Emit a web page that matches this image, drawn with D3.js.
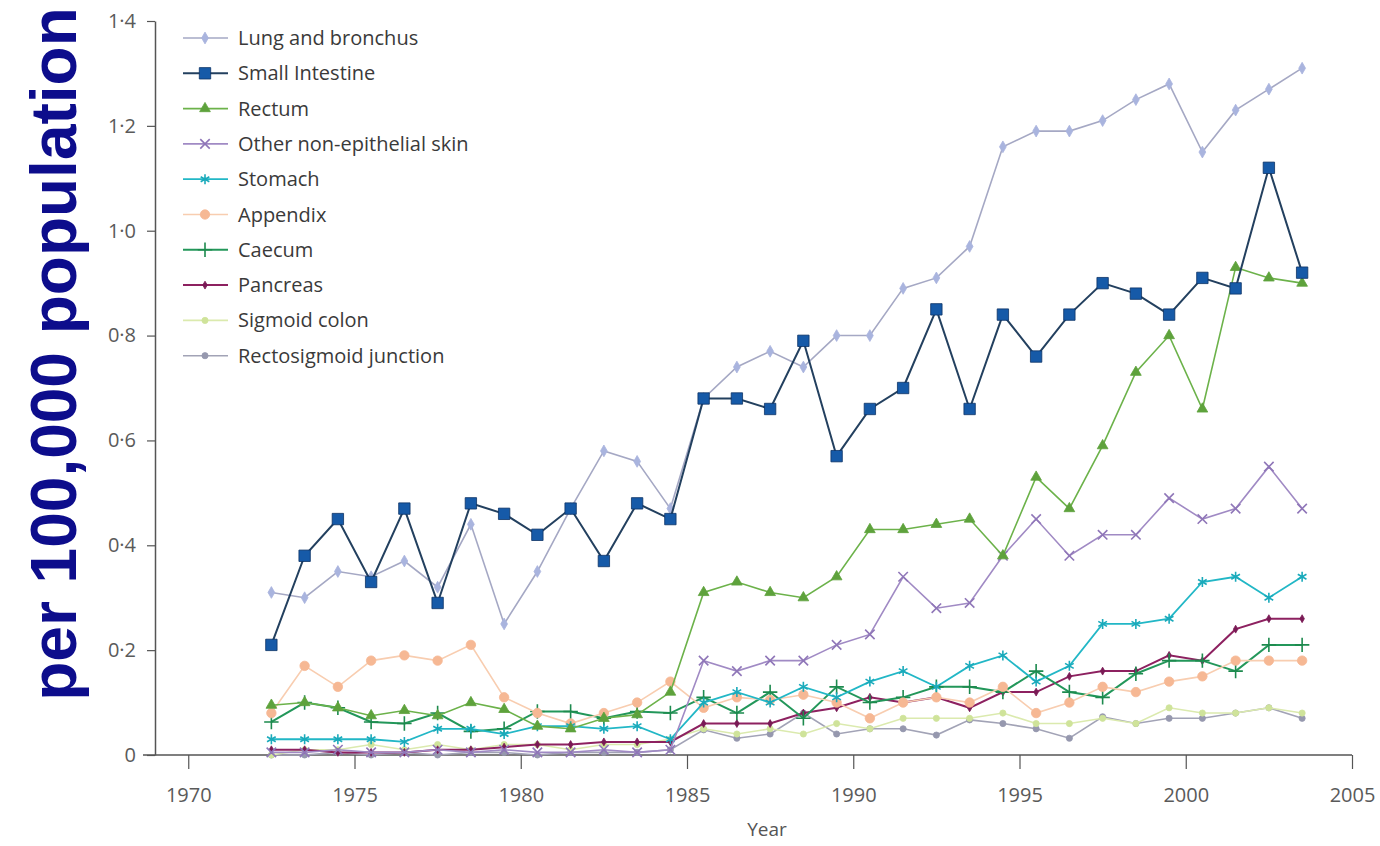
<!DOCTYPE html>
<html>
<head>
<meta charset="utf-8">
<script src="https://cdn.jsdelivr.net/npm/d3@7"></script>
<style>
  body { margin: 0; background: #fff; }
  text { font-family: "Open Sans", "Noto Sans", sans-serif; }
</style>
</head>
<body>
<svg id="chart" width="1380" height="846"></svg>
<script>
const years = [1973, 1974, 1975, 1976, 1977, 1978, 1979, 1980, 1981, 1982, 1983, 1984, 1985, 1986, 1987, 1988,
  1989, 1990, 1991, 1992, 1993, 1994, 1995, 1996, 1997, 1998, 1999, 2000, 2001, 2002, 2003, 2004];

const lung = [0.31, 0.30, 0.35, 0.34, 0.37, 0.32, 0.44, 0.25, 0.35, 0.47, 0.58, 0.56, 0.47, 0.68, 0.74, 0.77,
  0.74, 0.80, 0.80, 0.89, 0.91, 0.97, 1.16, 1.19, 1.19, 1.21, 1.25, 1.28, 1.15, 1.23, 1.27, 1.31];
const smallIntestine = [0.21, 0.38, 0.45, 0.33, 0.47, 0.29, 0.48, 0.46, 0.42, 0.47, 0.37, 0.48, 0.45, 0.68, 0.68, 0.66,
  0.79, 0.57, 0.66, 0.70, 0.85, 0.66, 0.84, 0.76, 0.84, 0.90, 0.88, 0.84, 0.91, 0.89, 1.12, 0.92];
const rectum = [0.095, 0.10, 0.09, 0.075, 0.085, 0.075, 0.10, 0.087, 0.055, 0.05, 0.07, 0.077, 0.12, 0.31, 0.33, 0.31,
  0.30, 0.34, 0.43, 0.43, 0.44, 0.45, 0.38, 0.53, 0.47, 0.59, 0.73, 0.80, 0.66, 0.93, 0.91, 0.90];
const skin = [0.005, 0.005, 0.01, 0.005, 0.005, 0.01, 0.005, 0.01, 0.005, 0.005, 0.01, 0.005, 0.01, 0.18, 0.16, 0.18,
  0.18, 0.21, 0.23, 0.34, 0.28, 0.29, 0.38, 0.45, 0.38, 0.42, 0.42, 0.49, 0.45, 0.47, 0.55, 0.47];
const stomach = [0.03, 0.03, 0.03, 0.03, 0.025, 0.05, 0.05, 0.04, 0.055, 0.055, 0.05, 0.055, 0.03, 0.10, 0.12, 0.10,
  0.13, 0.11, 0.14, 0.16, 0.13, 0.17, 0.19, 0.14, 0.17, 0.25, 0.25, 0.26, 0.33, 0.34, 0.30, 0.34];
const appendix = [0.08, 0.17, 0.13, 0.18, 0.19, 0.18, 0.21, 0.11, 0.08, 0.06, 0.08, 0.10, 0.14, 0.09, 0.11, 0.105,
  0.115, 0.10, 0.07, 0.10, 0.11, 0.10, 0.13, 0.08, 0.10, 0.13, 0.12, 0.14, 0.15, 0.18, 0.18, 0.18];
const caecum = [0.063, 0.10, 0.09, 0.063, 0.06, 0.08, 0.045, 0.05, 0.083, 0.083, 0.07, 0.083, 0.08, 0.11, 0.08, 0.12,
  0.07, 0.13, 0.10, 0.11, 0.13, 0.13, 0.12, 0.16, 0.12, 0.11, 0.155, 0.18, 0.18, 0.16, 0.21, 0.21];
const pancreas = [0.01, 0.01, 0.005, 0.005, 0.005, 0.01, 0.01, 0.015, 0.02, 0.02, 0.025, 0.025, 0.025, 0.06, 0.06, 0.06,
  0.08, 0.09, 0.11, 0.10, 0.11, 0.09, 0.12, 0.12, 0.15, 0.16, 0.16, 0.19, 0.18, 0.24, 0.26, 0.26];
const sigmoid = [0.00, 0.01, 0.01, 0.02, 0.01, 0.02, 0.01, 0.02, 0.02, 0.01, 0.02, 0.02, 0.03, 0.05, 0.04, 0.05,
  0.04, 0.06, 0.05, 0.07, 0.07, 0.07, 0.08, 0.06, 0.06, 0.07, 0.06, 0.09, 0.08, 0.08, 0.09, 0.08];
const rectosigmoid = [0.00, 0.00, 0.005, 0.00, 0.005, 0.00, 0.005, 0.005, 0.00, 0.005, 0.005, 0.005, 0.01, 0.048, 0.032, 0.04,
  0.08, 0.04, 0.05, 0.05, 0.038, 0.067, 0.06, 0.05, 0.032, 0.073, 0.06, 0.07, 0.07, 0.08, 0.09, 0.07];

const xTicks = [1970, 1975, 1980, 1985, 1990, 1995, 2000, 2005];
const yTicks = [0, 0.2, 0.4, 0.6, 0.8, 1.0, 1.2, 1.4];

const series = [
  { name: "Lung and bronchus", values: lung, color: "#a5a8c4", mColor: "#a9b4de", symbol: d3.symbolDiamond, size: 40, fill: true, w: 1.6 },
  { name: "Small Intestine", values: smallIntestine, color: "#23405f", mColor: "#165aa8", symbol: d3.symbolSquare, size: 130, fill: true, w: 2 },
  { name: "Rectum", values: rectum, color: "#6cb24a", mColor: "#5ea23c", symbol: d3.symbolTriangle, size: 50, fill: true, w: 1.6 },
  { name: "Other non-epithelial skin", values: skin, color: "#a08ac4", mColor: "#8f76b8", symbol: d3.symbolTimes, size: 60, fill: false, w: 1.6 },
  { name: "Stomach", values: stomach, color: "#22b7c6", mColor: "#1aaabb", symbol: d3.symbolAsterisk, size: 70, fill: false, w: 1.8 },
  { name: "Appendix", values: appendix, color: "#f8cdb0", mColor: "#f6b894", symbol: d3.symbolCircle, size: 70, fill: true, w: 1.6 },
  { name: "Caecum", values: caecum, color: "#23975a", mColor: "#1d8a4e", symbol: d3.symbolPlus, size: 70, fill: false, w: 2 },
  { name: "Pancreas", values: pancreas, color: "#8d2160", mColor: "#7a1a55", symbol: d3.symbolDiamond, size: 18, fill: true, w: 2 },
  { name: "Sigmoid colon", values: sigmoid, color: "#dbeaae", mColor: "#cfe39a", symbol: d3.symbolCircle, size: 30, fill: true, w: 1.6 },
  { name: "Rectosigmoid junction", values: rectosigmoid, color: "#a2a3b6", mColor: "#9698ae", symbol: d3.symbolCircle, size: 30, fill: true, w: 1.6 }
];

const svg = d3.select("#chart");

const x = d3.scaleLinear().domain([1969, 2005]).range([155, 1352]);
const y = d3.scaleLinear().domain([0, 1.4]).range([755, 21]);

const fmt = (d) => (d === 0 ? "0" : d3.format(".1f")(d).replace(".", "\u00b7"));

// axes
const xAxis = svg.append("g")
  .attr("transform", `translate(0,${y(0)})`)
  .call(d3.axisBottom(x).tickValues(xTicks).tickFormat(d3.format("d")).tickSize(14).tickSizeOuter(0));
const yAxis = svg.append("g")
  .attr("transform", `translate(${x(1969)},0)`)
  .call(d3.axisLeft(y).tickValues(yTicks).tickFormat(fmt).tickSize(8).tickSizeOuter(0));

[xAxis, yAxis].forEach((a) => {
  a.select(".domain").attr("stroke", "#555").attr("stroke-width", 1.5);
  a.selectAll(".tick line").attr("stroke", "#555").attr("stroke-width", 1.2);
  a.selectAll(".tick text").attr("fill", "#5a5a5a").style("font-size", "20px");
});
xAxis.selectAll(".tick text").attr("dy", "1.5em");
yAxis.selectAll(".tick text").attr("dx", "-0.4em");
xAxis.select(".domain").attr("d", `M${x(1969) - 12},0H${x(2005)}`);

svg.append("text")
  .attr("x", 767).attr("y", 836)
  .attr("text-anchor", "middle")
  .attr("fill", "#555").style("font-size", "19px")
  .text("Year");

svg.append("text")
  .attr("transform", "translate(76,354) rotate(-90)")
  .attr("text-anchor", "middle")
  .attr("fill", "#0d0d8c")
  .style("font-family", "'Liberation Sans', Arial, sans-serif")
  .style("font-weight", "bold")
  .style("font-size", "64px")
  .text("per 100,000 population");

// lines
const line = d3.line()
  .x((d, i) => x(years[i] - 0.5))
  .y((d) => y(d));

const drawOrder = series.slice().reverse().filter((s) => s.name !== "Small Intestine")
  .concat(series.filter((s) => s.name === "Small Intestine"));

const plot = svg.append("g");
drawOrder.forEach((s) => {
  const g = plot.append("g");
  g.append("path")
    .datum(s.values)
    .attr("fill", "none")
    .attr("stroke", s.color)
    .attr("stroke-width", s.w)
    .attr("d", line);
  g.selectAll("path.pt")
    .data(s.values)
    .enter()
    .append("path")
    .attr("class", "pt")
    .attr("transform", (d, i) => `translate(${x(years[i] - 0.5)},${y(d)})`)
    .attr("d", d3.symbol().type(s.symbol).size(s.size))
    .attr("fill", s.fill ? s.mColor : "none")
    .attr("stroke", s.name === "Small Intestine" ? "#0e3366" : s.mColor)
    .attr("stroke-width", s.fill ? 0.8 : 1.6);
});

// legend
const legend = svg.append("g").attr("transform", "translate(183,38)");
series.forEach((s, i) => {
  const row = legend.append("g").attr("transform", `translate(0,${i * 35.3})`);
  row.append("line")
    .attr("x1", 0).attr("x2", 45)
    .attr("stroke", s.color).attr("stroke-width", s.w);
  row.append("path")
    .attr("transform", "translate(22,0)")
    .attr("d", d3.symbol().type(s.symbol).size(s.size))
    .attr("fill", s.fill ? s.mColor : "none")
    .attr("stroke", s.name === "Small Intestine" ? "#0e3366" : s.mColor)
    .attr("stroke-width", s.fill ? 0.8 : 1.6);
  row.append("text")
    .attr("x", 55).attr("y", 0).attr("dy", "0.35em")
    .attr("fill", "#3a3a3a")
    .style("font-size", "20px")
    .text(s.name);
});
</script>
</body>
</html>
